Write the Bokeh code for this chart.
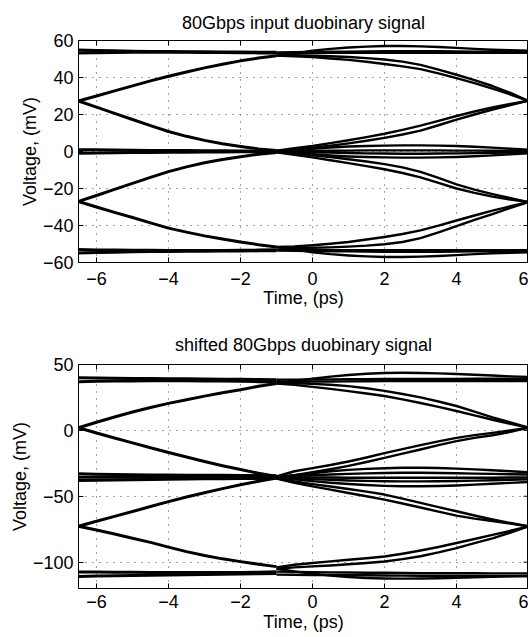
import math
from bokeh.plotting import figure
from bokeh.layouts import column
from bokeh.models import Range1d, FixedTicker
from bokeh.embed import file_html
from bokeh.resources import INLINE

FONT = "Liberation Sans"

# ---------------- data ----------------
X_TICKS = [-6, -4, -2, 0, 2, 4, 6]
X_LABELS = ["\u22126", "\u22124", "\u22122", "0", "2", "4", "6"]

TOP_Y_TICKS = [-60, -40, -20, 0, 20, 40, 60]
TOP_Y_LABELS = ["\u221260", "\u221240", "\u221220", "0", "20", "40", "60"]
BOT_Y_TICKS = [-100, -50, 0, 50]
BOT_Y_LABELS = ["\u2212100", "\u221250", "0", "50"]

# time samples (ps): left half of the eye and right half of the eye
T_LEFT = [-6.5, -6.0, -5.5, -5.0, -4.5, -4.0, -3.5, -3.0, -2.5, -2.0, -1.5, -1.0]
T_RIGHT = [-1.0, -0.5, 0.0, 0.5, 1.0, 1.5, 2.0, 2.5, 3.0, 3.5, 4.0, 4.5, 5.0, 5.5, 6.0]

# ---- upper panel: 80Gbps input duobinary signal (mV) ----
TL_rail_a = [54.8, 54.6, 54.4, 54.2, 54.1, 54.0, 53.9, 53.9, 53.8, 53.8, 53.7, 53.6]
TL_rail_b = [53.3, 53.4, 53.5, 53.6, 53.6, 53.6, 53.6, 53.5, 53.5, 53.4, 53.3, 53.2]
TL_rise_up = [27.3, 30.0, 32.8, 35.5, 38.2, 40.7, 43.0, 45.2, 47.2, 49.0, 50.5, 51.8]
TL_fall_up = [27.3, 24.0, 20.6, 17.3, 14.0, 10.8, 8.2, 6.0, 4.2, 2.7, 1.4, 0.5]
TL_zero_a = [1.0, 0.9, 0.8, 0.7, 0.6, 0.5, 0.5, 0.4, 0.4, 0.3, 0.3, 0.3]
TL_zero_b = [-1.0, -0.8, -0.7, -0.6, -0.5, -0.4, -0.4, -0.3, -0.3, -0.2, -0.2, -0.2]
TL_rise_lo = [-27.0, -23.8, -20.5, -17.2, -14.0, -10.9, -8.3, -6.1, -4.3, -2.8, -1.5, -0.5]
TL_fall_lo = [-27.0, -30.0, -32.9, -35.7, -38.6, -41.4, -43.6, -45.6, -47.3, -48.9, -50.4, -51.6]
TL_rail_c = [-53.0, -53.2, -53.3, -53.4, -53.4, -53.5, -53.5, -53.5, -53.5, -53.4, -53.3, -53.1]
TL_rail_d = [-54.8, -54.6, -54.4, -54.2, -54.1, -54.0, -53.9, -53.9, -53.8, -53.8, -53.7, -53.6]

TR_over_hi = [51.8, 53.0, 54.5, 55.5, 56.2, 56.7, 57.0, 57.0, 56.8, 56.5, 56.0, 55.5, 55.0, 54.7, 54.5]
TR_rail_a = [53.6, 53.7, 53.8, 53.9, 54.0, 54.1, 54.2, 54.2, 54.2, 54.2, 54.1, 54.0, 53.9, 53.9, 53.8]
TR_rail_b = [53.2, 53.2, 53.2, 53.3, 53.3, 53.3, 53.3, 53.3, 53.3, 53.3, 53.3, 53.3, 53.3, 53.3, 53.3]
TR_fall_hi_a = [51.8, 52.0, 51.8, 51.5, 51.1, 50.5, 49.7, 48.6, 46.8, 44.3, 41.5, 38.6, 35.4, 31.7, 27.3]
TR_fall_hi_b = [51.8, 51.5, 51.0, 50.3, 49.5, 48.5, 47.3, 46.0, 44.5, 42.2, 39.7, 37.0, 34.0, 30.8, 27.3]
TR_rise_mid_a = [0.5, 1.8, 3.0, 4.5, 6.1, 7.8, 9.6, 11.7, 14.0, 16.6, 19.2, 21.6, 23.8, 25.7, 27.5]
TR_rise_mid_b = [0.3, 1.0, 2.0, 3.1, 4.4, 5.8, 7.4, 9.2, 11.3, 14.2, 17.2, 20.0, 22.6, 25.1, 27.5]
TR_zero_up = [0.3, 0.8, 1.5, 2.2, 2.7, 3.0, 3.2, 3.3, 3.3, 3.2, 3.0, 2.6, 2.1, 1.5, 1.0]
TR_zero_a = [0.2, 0.2, 0.3, 0.4, 0.5, 0.6, 0.6, 0.6, 0.6, 0.6, 0.5, 0.5, 0.4, 0.3, 0.3]
TR_zero_b = [-0.2, -0.3, -0.4, -0.6, -0.8, -1.0, -1.1, -1.2, -1.2, -1.1, -1.0, -0.9, -0.7, -0.5, -0.4]
TR_zero_dn = [-0.3, -0.8, -1.5, -2.2, -2.7, -3.0, -3.2, -3.3, -3.3, -3.2, -3.0, -2.6, -2.1, -1.5, -1.0]
TR_fall_mid_a = [-0.3, -1.0, -2.0, -3.0, -4.2, -5.4, -6.8, -8.6, -11.0, -14.3, -17.8, -20.6, -23.0, -25.2, -27.3]
TR_fall_mid_b = [-0.5, -1.8, -3.2, -4.7, -6.3, -7.9, -9.6, -11.6, -14.0, -17.0, -20.0, -22.4, -24.4, -26.0, -27.3]
TR_rise_lo_a = [-51.6, -51.3, -50.7, -49.9, -48.9, -47.6, -46.2, -44.6, -42.6, -40.1, -37.3, -34.6, -32.0, -29.6, -27.3]
TR_rise_lo_b = [-51.8, -52.0, -52.0, -51.8, -51.4, -50.9, -50.1, -48.9, -46.8, -43.7, -40.3, -37.0, -33.8, -30.5, -27.3]
TR_rail_c = [-53.2, -53.2, -53.2, -53.3, -53.3, -53.3, -53.3, -53.3, -53.3, -53.3, -53.3, -53.3, -53.3, -53.3, -53.3]
TR_rail_d = [-53.6, -53.7, -53.8, -53.9, -54.0, -54.1, -54.2, -54.2, -54.2, -54.2, -54.1, -54.0, -53.9, -53.9, -53.8]
TR_under_lo = [-51.6, -53.0, -54.5, -55.5, -56.2, -56.7, -57.0, -57.0, -56.8, -56.5, -56.0, -55.5, -55.0, -54.7, -54.5]

# ---- lower panel: shifted 80Gbps duobinary signal (mV) ----
BL_rail_hi_a = [40.0, 39.8, 39.6, 39.4, 39.3, 39.2, 39.1, 39.0, 38.9, 38.8, 38.6, 38.4]
BL_rail_hi_b = [37.0, 37.2, 37.4, 37.5, 37.6, 37.6, 37.6, 37.5, 37.4, 37.2, 37.0, 36.8]
BL_rise_hi = [2.0, 6.2, 10.2, 14.0, 17.4, 20.5, 23.3, 26.0, 28.5, 30.8, 33.5, 35.6]
BL_fall_hi = [2.0, -2.0, -5.8, -9.5, -13.2, -16.8, -20.2, -23.6, -26.8, -29.7, -32.6, -35.0]
BL_rail_mid_a = [-33.0, -33.3, -33.5, -33.7, -33.8, -33.9, -34.0, -34.0, -34.1, -34.2, -34.3, -34.5]
BL_rail_mid_b = [-35.5, -35.5, -35.6, -35.6, -35.6, -35.7, -35.7, -35.7, -35.7, -35.7, -35.7, -35.7]
BL_rail_mid_c = [-38.0, -37.8, -37.6, -37.4, -37.2, -37.0, -36.9, -36.8, -36.7, -36.6, -36.5, -36.4]
BL_rise_lo = [-72.8, -69.0, -65.3, -61.6, -57.8, -54.1, -50.6, -47.3, -44.2, -41.3, -38.6, -36.2]
BL_fall_lo = [-72.8, -75.6, -78.6, -81.8, -85.0, -88.6, -92.0, -95.0, -97.5, -99.6, -101.6, -103.4]
BL_rail_lo_a = [-107.4, -107.5, -107.6, -107.7, -107.8, -107.8, -107.9, -107.9, -107.9, -107.8, -107.6, -107.2]
BL_rail_lo_b = [-110.8, -110.6, -110.4, -110.2, -110.0, -109.8, -109.6, -109.4, -109.2, -109.0, -108.8, -108.6]

BR_over_hi = [36.0, 37.5, 39.2, 40.8, 42.0, 43.0, 43.5, 43.7, 43.6, 43.3, 42.8, 42.2, 41.6, 41.0, 40.6]
BR_rail_hi_a = [38.4, 38.5, 38.6, 38.7, 38.8, 38.9, 39.0, 39.0, 39.1, 39.1, 39.1, 39.2, 39.2, 39.2, 39.2]
BR_rail_hi_b = [36.8, 36.9, 37.0, 37.1, 37.2, 37.3, 37.4, 37.4, 37.4, 37.4, 37.4, 37.4, 37.4, 37.4, 37.4]
BR_fall_hi_a = [36.0, 35.8, 35.3, 34.6, 33.6, 32.0, 30.0, 27.6, 25.0, 21.9, 18.5, 14.3, 9.9, 6.0, 2.0]
BR_fall_hi_b = [35.6, 34.5, 33.0, 31.5, 29.8, 28.0, 26.1, 23.5, 20.8, 17.8, 14.7, 11.4, 8.1, 5.0, 2.0]
BR_rise_mid_a = [-35.0, -31.0, -28.6, -26.3, -23.6, -20.6, -17.3, -14.2, -11.2, -8.3, -5.7, -3.6, -1.9, 0.0, 2.0]
BR_rise_mid_b = [-35.5, -34.0, -31.8, -29.5, -26.9, -24.0, -20.9, -17.7, -14.5, -11.2, -8.2, -5.7, -3.7, -1.1, 2.0]
BR_mid_up = [-35.5, -34.0, -32.5, -31.0, -30.0, -29.2, -28.7, -28.4, -28.4, -28.6, -29.0, -29.6, -30.3, -31.0, -31.8]
BR_mid_a = [-35.0, -34.5, -34.0, -33.5, -33.0, -32.6, -32.3, -32.2, -32.2, -32.3, -32.5, -32.8, -33.0, -33.3, -33.5]
BR_mid_b = [-35.5, -35.6, -35.7, -35.8, -35.9, -36.0, -36.0, -36.0, -36.0, -36.0, -36.0, -35.9, -35.9, -35.8, -35.8]
BR_mid_c = [-36.0, -36.5, -37.0, -37.5, -38.0, -38.3, -38.6, -38.7, -38.7, -38.6, -38.4, -38.1, -37.8, -37.5, -37.2]
BR_mid_dn = [-36.0, -37.2, -38.5, -39.7, -40.7, -41.5, -42.1, -42.4, -42.4, -42.2, -41.8, -41.2, -40.5, -39.8, -39.2]
BR_fall_mid_a = [-36.3, -38.8, -40.8, -42.6, -44.5, -46.5, -48.7, -51.8, -55.0, -58.2, -61.4, -64.6, -67.6, -70.3, -72.8]
BR_fall_mid_b = [-36.5, -39.8, -42.5, -45.0, -47.5, -50.0, -52.5, -55.5, -58.5, -61.7, -64.7, -67.0, -68.8, -70.8, -72.8]
BR_rise_lo_a = [-104.0, -102.0, -100.6, -99.4, -98.2, -97.0, -95.7, -93.6, -91.2, -88.5, -85.5, -82.4, -79.3, -76.2, -72.8]
BR_rise_lo_b = [-105.0, -104.0, -103.2, -102.5, -101.6, -100.6, -99.5, -97.7, -95.5, -92.6, -89.3, -85.5, -81.9, -77.6, -72.8]
BR_rail_lo_a = [-107.2, -107.4, -107.6, -107.8, -107.9, -108.0, -108.1, -108.2, -108.3, -108.3, -108.4, -108.4, -108.5, -108.5, -108.5]
BR_rail_lo_b = [-109.5, -109.6, -109.7, -109.8, -109.9, -110.0, -110.1, -110.2, -110.3, -110.3, -110.4, -110.4, -110.5, -110.5, -110.5]
BR_under_lo = [-105.0, -107.0, -108.8, -110.2, -111.3, -112.0, -112.4, -112.5, -112.4, -112.2, -111.9, -111.5, -111.1, -110.8, -110.5]

TOP_LEFT = [TL_rail_a, TL_rail_b, TL_rise_up, TL_fall_up, TL_zero_a, TL_zero_b,
            TL_rise_lo, TL_fall_lo, TL_rail_c, TL_rail_d]
TOP_RIGHT = [TR_over_hi, TR_rail_a, TR_rail_b, TR_fall_hi_a, TR_fall_hi_b, TR_rise_mid_a,
             TR_rise_mid_b, TR_zero_up, TR_zero_a, TR_zero_b, TR_zero_dn, TR_fall_mid_a,
             TR_fall_mid_b, TR_rise_lo_a, TR_rise_lo_b, TR_rail_c, TR_rail_d, TR_under_lo]
BOT_LEFT = [BL_rail_hi_a, BL_rail_hi_b, BL_rise_hi, BL_fall_hi, BL_rail_mid_a, BL_rail_mid_b,
            BL_rail_mid_c, BL_rise_lo, BL_fall_lo, BL_rail_lo_a, BL_rail_lo_b]
BOT_RIGHT = [BR_over_hi, BR_rail_hi_a, BR_rail_hi_b, BR_fall_hi_a, BR_fall_hi_b, BR_rise_mid_a,
             BR_rise_mid_b, BR_mid_up, BR_mid_a, BR_mid_b, BR_mid_c, BR_mid_dn, BR_fall_mid_a,
             BR_fall_mid_b, BR_rise_lo_a, BR_rise_lo_b, BR_rail_lo_a, BR_rail_lo_b, BR_under_lo]

X_LO, X_HI = -6.5, 6.0


def style_axis(ax, ticks, labels, standoff):
    ax.ticker = FixedTicker(ticks=ticks)
    ax.major_tick_in = 5
    ax.major_tick_out = 0
    ax.minor_tick_line_color = None
    ax.major_tick_line_color = "black"
    ax.axis_line_color = "black"
    ax.major_label_overrides = {t: l for t, l in zip(ticks, labels)}
    ax.major_label_text_font = FONT
    ax.major_label_text_font_size = "18px"
    ax.major_label_text_color = "black"
    ax.major_label_standoff = standoff
    ax.axis_label_text_font = FONT
    ax.axis_label_text_font_size = "18px"
    ax.axis_label_text_font_style = "normal"
    ax.axis_label_text_color = "black"


def panel(title, y_lo, y_hi, y_ticks, y_labels, left, right, height, top_b, bot_b,
          x_standoff, xlab_standoff, title_standoff):
    p = figure(width=528, height=height, x_range=Range1d(X_LO, X_HI), y_range=Range1d(y_lo, y_hi),
               output_backend="svg", toolbar_location=None, title=title,
               min_border_left=78, min_border_right=0, min_border_top=top_b, min_border_bottom=bot_b)
    p.title.text_font = FONT
    p.title.text_font_size = "18px"
    p.title.text_font_style = "normal"
    p.title.text_color = "black"
    p.title.align = "center"
    p.title.standoff = title_standoff
    p.outline_line_color = "black"
    p.outline_line_alpha = 1.0
    p.background_fill_color = "white"
    p.border_fill_color = "white"
    for g in (p.xgrid, p.ygrid):
        g.grid_line_color = "#444444"
        g.grid_line_dash = "1 6"
        g.grid_line_width = 1
    p.xgrid.ticker = FixedTicker(ticks=X_TICKS)
    p.ygrid.ticker = FixedTicker(ticks=y_ticks)

    style_axis(p.xaxis[0], X_TICKS, X_LABELS, x_standoff)
    style_axis(p.yaxis[0], y_ticks, y_labels, 5)
    p.xaxis.axis_label = "Time, (ps)"
    p.yaxis.axis_label = "Voltage, (mV)"
    p.xaxis.axis_label_standoff = xlab_standoff
    p.yaxis.axis_label_standoff = 0

    for ys in left:
        p.line(T_LEFT, ys, line_color="black", line_width=3.0, line_join="round")
    for ys in right:
        p.line(T_RIGHT, ys, line_color="black", line_width=2.4, line_join="round")

    # inward tick marks on the top and right frame edges (clipped to the frame)
    p.scatter(X_TICKS, [y_hi] * len(X_TICKS), marker="dash", angle=math.pi / 2, size=10,
              line_color="black", line_width=1)
    p.scatter([X_HI] * len(y_ticks), y_ticks, marker="dash", size=10,
              line_color="black", line_width=1)
    return p


p1 = panel("80Gbps input duobinary signal", -60, 60, TOP_Y_TICKS, TOP_Y_LABELS,
           TOP_LEFT, TOP_RIGHT, 312, 40, 50, 9, 0, 16)
p2 = panel("shifted 80Gbps duobinary signal", -120, 50, BOT_Y_TICKS, BOT_Y_LABELS,
           BOT_LEFT, BOT_RIGHT, 325, 52, 49, 6, 1, 20)

layout = column(p1, p2, spacing=0)
open("out.html", "w").write(file_html(layout, INLINE))
